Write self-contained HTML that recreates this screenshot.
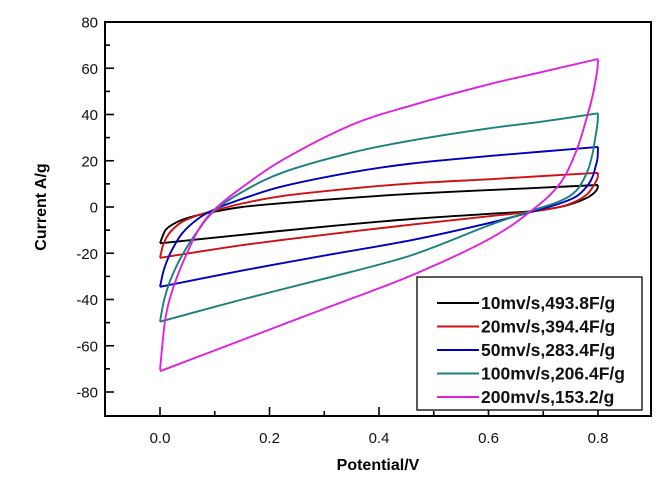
<!DOCTYPE html>
<html><head><meta charset="utf-8"><style>
html,body{margin:0;padding:0;background:#fff;}
svg{display:block;font-family:"Liberation Sans",Arial,sans-serif;}
</style></head><body>
<svg id="chart" width="661" height="482" viewBox="0 0 661 482" xmlns="http://www.w3.org/2000/svg">
<rect x="0" y="0" width="661" height="482" fill="#fff"/>
<g id="series"></g>
<g id="axes"></g>
<text x="46" y="207" transform="rotate(-90 46 207)" text-anchor="middle" font-size="16" font-weight="bold">Current A/g</text>
<text x="378" y="470" text-anchor="middle" font-size="16" font-weight="bold">Potential/V</text>
<g id="legend"></g>
</svg>
<script>
const seriesNames = ["10mv/s,493.8F/g","20mv/s,394.4F/g","50mv/s,283.4F/g","100mv/s,206.4F/g","200mv/s,153.2/g"];
const seriesColors = ["#000000","#d01010","#0000c0","#1a7f7f","#e020e0"];
const forwardV = [0,0.005,0.01,0.02,0.04,0.07,0.1,0.15,0.225,0.35,0.46,0.6,0.7,0.8];
const reverseV = [0.8,0.799,0.795,0.79,0.78,0.76,0.73,0.68,0.6,0.46,0.3,0.15,0];
const fwd10 = [-15.7,-12.5,-10,-8,-5.6,-3.5,-2,0,1.7,4,5.7,7.3,8.4,9.5];
const rev10 = [9.5,8,6.6,5.5,4,2,0,-1.8,-3,-5.2,-8.5,-12,-15.7];
const fwd20 = [-22,-17,-14,-10.5,-6.5,-3.5,-1.5,1.5,4.8,8,10.2,12,13.4,14.8];
const rev20 = [14.8,12.5,10.5,8.5,5.5,2.5,0,-2,-4,-7.6,-12,-16.5,-22];
const fwd50 = [-34.5,-29,-25,-19.5,-11.5,-5,-1,3.5,9,15,18.8,22,24,26];
const rev50 = [26,21,17,13,9,4.5,1.5,-2,-7,-14.3,-21,-27.5,-34.5];
const fwd100 = [-49.6,-43,-38,-31,-21,-10,-1.5,6.5,15,23.5,28.8,34,37,40.5];
const rev100 = [40.5,36,30,23,15,7,2.5,-1.5,-8,-20.8,-31,-40,-49.6];
const fwd200 = [-70.5,-58,-48,-38,-25,-10,-1,8.5,20.5,35.5,44,53,58.5,64];
const rev200 = [64,60,54,48,39,24,10,-1.3,-14,-29.5,-44,-57.5,-71];
const yTicks = [-80,-60,-40,-20,0,20,40,60,80];
const xTicks = [0.0,0.2,0.4,0.6,0.8];

const NS="http://www.w3.org/2000/svg";
const L=105,R=651,T=22,B=416;
function xs(v){return 160+(v-0)*547.5;}
function ys(i){return 207-i*2.3125;}
function mk(tag,attrs,parent){const e=document.createElementNS(NS,tag);for(const k in attrs)e.setAttribute(k,attrs[k]);parent.appendChild(e);return e;}
function smooth(p){
  let d="M"+p[0][0].toFixed(1)+","+p[0][1].toFixed(1);
  for(let i=0;i<p.length-1;i++){
    const p0=p[i-1]||p[i],p1=p[i],p2=p[i+1],p3=p[i+2]||p2;
    const c1=[p1[0]+(p2[0]-p0[0])/6,p1[1]+(p2[1]-p0[1])/6];
    const c2=[p2[0]-(p3[0]-p1[0])/6,p2[1]-(p3[1]-p1[1])/6];
    d+=" C"+c1[0].toFixed(1)+","+c1[1].toFixed(1)+" "+c2[0].toFixed(1)+","+c2[1].toFixed(1)+" "+p2[0].toFixed(1)+","+p2[1].toFixed(1);
  }
  return d;
}

const sg=document.getElementById('series');
const fwds=[fwd10,fwd20,fwd50,fwd100,fwd200];
const revs=[rev10,rev20,rev50,rev100,rev200];
for(let s=0;s<5;s++){
  const pf=forwardV.map((v,i)=>[xs(v),ys(fwds[s][i])]);
  const pr=reverseV.map((v,i)=>[xs(v),ys(revs[s][i])]);
  const p=mk('path',{d:smooth(pf)+" "+smooth(pr),fill:"none",stroke:seriesColors[s],"stroke-width":"1.9","stroke-linejoin":"round"},sg);
  
  
}

const ax=document.getElementById('axes');
const frame=mk('rect',{x:L,y:T,width:R-L,height:B-T,fill:"none",stroke:"#000","stroke-width":"2"},ax);


for(let v=-80;v<=80;v+=10){
  const major=v%20===0;
  const t=mk('line',{x1:L,x2:L+(major?9:5),y1:ys(v),y2:ys(v),stroke:"#000","stroke-width":"1.6"},ax);
  
  
}
yTicks.forEach(v=>{
  const t=mk('text',{x:98,y:ys(v)+5.5,"text-anchor":"end","font-size":"15",fill:"#111"},ax);
  t.textContent=String(v);
  
  
});
for(let k=-1;k<=8;k++){
  const v=k/10;const major=k%2===0;
  const t=mk('line',{x1:xs(v),x2:xs(v),y1:B,y2:B-(major?9:5),stroke:"#000","stroke-width":"1.6"},ax);
  
  
}
xTicks.forEach(v=>{
  const t=mk('text',{x:xs(v),y:443,"text-anchor":"middle","font-size":"15",fill:"#111"},ax);
  t.textContent=v.toFixed(1);
  
  
});

const lg=document.getElementById('legend');
const box=mk('rect',{x:417,y:277,width:225,height:133,fill:"#fff",stroke:"#000","stroke-width":"1.3"},lg);


for(let s=0;s<5;s++){
  const y=303+s*23.5;
  const ln=mk('line',{x1:437,x2:479,y1:y,y2:y,stroke:seriesColors[s],"stroke-width":"2"},lg);
  
  
  const t=mk('text',{x:481,y:y+6,"font-size":"17.5","font-weight":"bold",fill:"#111"},lg);
  t.textContent=seriesNames[s];
  
  
}
</script>
</body></html>
